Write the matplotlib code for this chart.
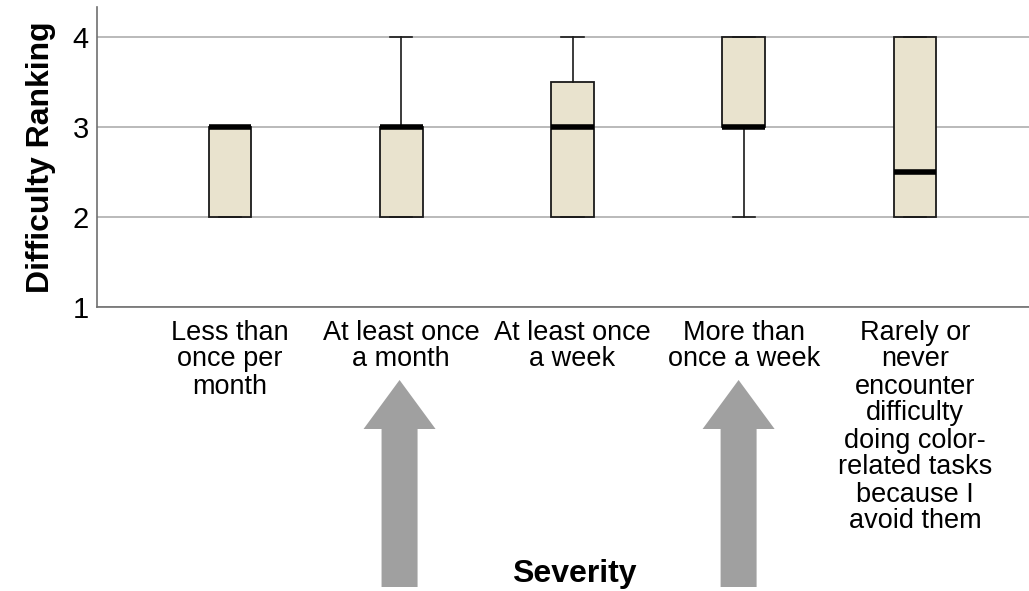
import matplotlib
matplotlib.use("Agg")
import matplotlib.pyplot as plt
import matplotlib.transforms as mtransforms
from matplotlib.patches import Polygon

plt.rcParams['font.family'] = ['Liberation Sans', 'DejaVu Sans']

categories = ["Less than\nonce per\nmonth",
              "At least once\na month",
              "At least once\na week",
              "More than\nonce a week",
              "Rarely or\nnever\nencounter\ndifficulty\ndoing color-\nrelated tasks\nbecause I\navoid them"]
q1 = [2, 2, 2, 3, 2]
medians = [3, 3, 3, 3, 2.5]
q3 = [3, 3, 3.5, 4, 4]
whisker_lo = [2, 2, 2, 2, 2]
whisker_hi = [3, 4, 4, 4, 4]

# groups marked with an arrow under the axis
arrow_x = [1.99, 3.97]

stats = []
for i in range(len(categories)):
    stats.append(dict(q1=q1[i], med=medians[i], q3=q3[i],
                      whislo=whisker_lo[i], whishi=whisker_hi[i],
                      fliers=[], label=categories[i]))

fig = plt.figure(figsize=(10.29, 5.91), dpi=100)
ax = fig.add_axes([97/1029, 284/591, 932/1029, 300/591])

positions = list(range(1, len(categories) + 1))
ax.bxp(stats, positions=positions, widths=0.25, capwidths=0.13,
       patch_artist=True, showfliers=False,
       boxprops=dict(facecolor='#e9e3ce', edgecolor='#1a1a1a', linewidth=1.3),
       medianprops=dict(color='black', linewidth=4.0, solid_capstyle='butt'),
       whiskerprops=dict(color='#1a1a1a', linewidth=1.2),
       capprops=dict(color='#1a1a1a', linewidth=1.2))

ax.set_xlim(0.223, 5.666)
ax.set_ylim(1, 4.333)
ax.set_yticks([1, 2, 3, 4])
ax.yaxis.grid(True, color='#b4b4b4', linewidth=1.3)
ax.set_axisbelow(True)

for side in ['top', 'right']:
    ax.spines[side].set_visible(False)
for side in ['left', 'bottom']:
    ax.spines[side].set_color('#707070')
    ax.spines[side].set_linewidth(1.2)

ax.tick_params(axis='y', length=0, pad=6, labelsize=21)
ax.tick_params(axis='x', length=0, pad=9, labelsize=19.5)
ax.set_xticks(positions)
ax.set_xticklabels(categories, linespacing=1.05)

ax.set_ylabel("Difficulty Ranking", fontsize=23, fontweight='bold', labelpad=12)

trans = mtransforms.blended_transform_factory(ax.transData, fig.transFigure)
fig.text(3.01, 0.003, "Severity", transform=trans, ha='center', va='bottom',
         fontsize=23, fontweight='bold')

# up arrows: shaft half width and head half width in data units, heights in figure fraction
shaft = 18 / 171.2
head = 36 / 171.2
y_bottom, y_base, y_tip = 4 / 591, 162 / 591, 211 / 591
for x in arrow_x:
    verts = [(x - shaft, y_bottom), (x - shaft, y_base), (x - head, y_base),
             (x, y_tip), (x + head, y_base), (x + shaft, y_base),
             (x + shaft, y_bottom)]
    fig.add_artist(Polygon(verts, closed=True, transform=trans,
                           facecolor='#a0a0a0', edgecolor='none'))

fig.savefig("out.png", dpi=100)
